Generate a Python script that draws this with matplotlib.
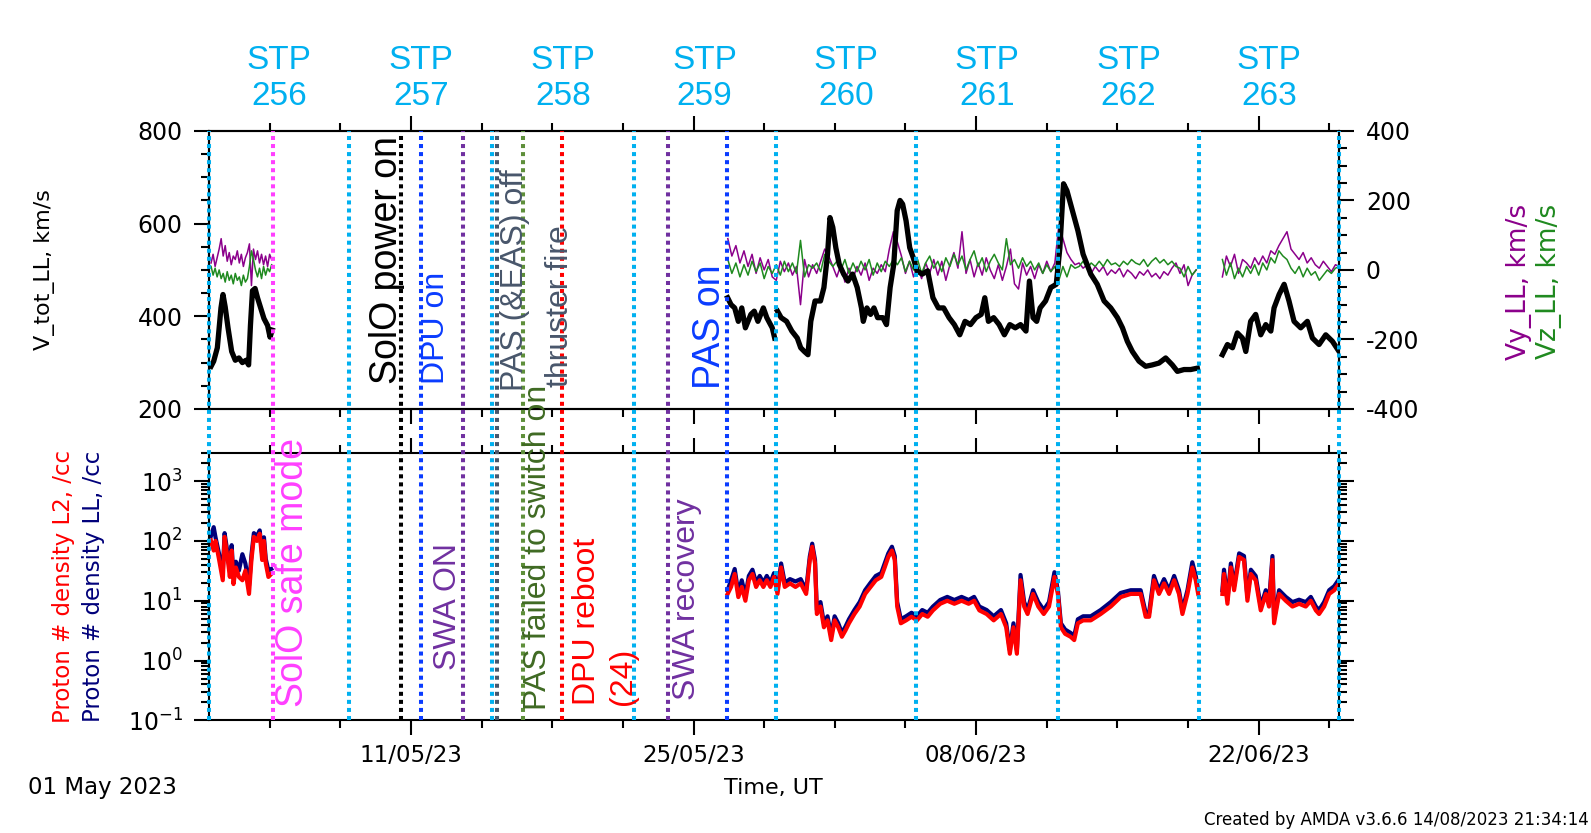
import numpy as np
import matplotlib
matplotlib.use("Agg")
import matplotlib.pyplot as plt
import matplotlib.dates as mdates
from matplotlib.ticker import MultipleLocator, LogLocator, NullFormatter

plt.rcParams['font.family'] = 'DejaVu Sans'
plt.rcParams['mathtext.default'] = 'regular'
plt.rcParams['axes.unicode_minus'] = False

# time span of the plot; all data times are days after 01 May 2023 00:00 UT
t_start = np.datetime64('2023-05-01T00:00')
t_end = np.datetime64('2023-06-26T00:00')

# V_tot_LL, km/s (black), one list per data interval
vtot_a_days = [0.10, 0.23, 0.41, 0.59, 0.69, 0.80, 0.94, 1.12, 1.30, 1.48, 1.65, 1.83, 1.96, 2.05,
               2.15, 2.28, 2.40, 2.54, 2.72, 2.90, 3.02, 3.13]
vtot_a = [292, 303, 332, 418, 447, 420, 375, 324, 305, 310, 300, 305, 295, 380,
          455, 460, 440, 420, 395, 380, 355, 370]
vtot_b1_days = [25.69, 25.86, 26.04, 26.22, 26.39, 26.57, 26.84, 27.01, 27.19, 27.46, 27.63, 27.90, 28.02]
vtot_b1 = [440, 425, 418, 389, 418, 375, 404, 411, 389, 418, 397, 375, 353]
vtot_b2_days = [28.16, 28.34, 28.61, 28.87, 29.14, 29.31, 29.49, 29.67, 29.81, 30.02, 30.29, 30.46,
                30.64, 30.76, 30.90, 31.05, 31.22, 31.44, 31.65, 31.88, 32.11, 32.32, 32.41, 32.59,
                32.77, 32.94, 33.12, 33.38, 33.56, 33.74, 33.92, 34.09, 34.23, 34.36, 34.53, 34.71,
                34.89, 35.07, 35.33, 35.60, 35.86, 36.13, 36.39, 36.66, 36.92, 37.19, 37.45, 37.72,
                37.99, 38.25, 38.43, 38.61, 38.87, 39.14, 39.40, 39.67, 39.94, 40.20, 40.47, 40.64,
                40.82, 41.00, 41.17, 41.44, 41.70, 41.97, 42.15, 42.33, 42.50, 42.77, 43.04, 43.30,
                43.68, 44.00, 44.34, 44.67, 45.00, 45.25, 45.49, 45.74, 46.07, 46.40, 46.73, 47.06,
                47.39, 47.72, 47.97, 48.30, 48.63, 48.96]
vtot_b2 = [411, 397, 389, 368, 353, 332, 324, 317, 389, 433, 433, 462,
           534, 613, 592, 548, 512, 491, 476, 491, 462, 418, 389, 418,
           404, 418, 397, 397, 382, 462, 512, 628, 650, 642, 606, 548,
           526, 498, 491, 498, 440, 418, 418, 397, 382, 360, 389, 382,
           397, 404, 440, 389, 397, 382, 360, 382, 375, 382, 368, 476,
           397, 389, 418, 433, 462, 469, 548, 686, 671, 628, 585, 534,
           491, 469, 433, 418, 397, 375, 346, 324, 303, 292, 295, 299,
           310, 295, 281, 285, 285, 288]
vtot_c_days = [50.20, 50.45, 50.70, 50.94, 51.19, 51.36, 51.60, 51.85, 52.10, 52.35, 52.60, 52.76,
               53.01, 53.26, 53.50, 53.75, 54.08, 54.41, 54.66, 54.99, 55.32, 55.65, 55.98]
vtot_c = [317, 339, 332, 364, 353, 324, 389, 404, 360, 382, 368, 418,
          447, 469, 433, 389, 375, 389, 353, 339, 360, 346, 324]

# Vy_LL and Vz_LL, km/s, regularly sampled intervals: (first day, step in days)
vyz_a_start, vyz_a_step = 0.1, 0.1
vy_a = [20, 45, 10, 35, 60, 90, 40, 70, 25, 50, 15, 40, 30, 55, 20, 45, 10, 35, 50, 75,
        -45, 60, 30, 55, 20, 45, 15, 40, 10, 45, 30]
vz_a = [10, -15, 5, -20, 0, -25, -10, -35, -5, -30, -15, -40, -10, -30, -20, -45, -15, -35, -25, 10,
        55, 30, 0, -20, 5, -25, 10, -15, 5, -5, 15]
vyz_b_start, vyz_b_step = 25.7, 0.2
vy_b = [90, 40, 70, 20, 55, 10, 45, -10, 35, 0, 30, -20,
        -30, 25, -5, 20, -15, 10, -100, 30, -20, 15, -10, 25, 60, 40, 10,
        -20, 15, -35, 5, -25, 10, -15, 20, -30, 5, -10, 15, -5, 60, 110,
        80, 40, -10, 25, -20, 10, -25, 20, -10, 30, -15, 25, -30, 15, 50,
        5, 110, -10, 30, -20, 20, -15, 35, 0, -25, 15, -30, 10, 60, -40,
        -55, 20, -15, 10, -25, 15, -10, 25, -5, 20, 130, 90, 50, 30, 15,
        20, 5, 15, -10, 10, -5, 10, -15, 0, -10, 5, -20, 0, -10, -25,
        -5, -15, 0, -20, -10, -25, -5, -15, 5, 20, -10, 15, -45, -15, 0]
vz_b = [30, -10, 20, -20, 15, -15, 25, -5, 20, -25, 10, -10,
        15, -15, 25, -5, 20, -10, 85, -20, 15, 5, 20, -5, 45, 25, 10,
        25, 0, 30, -10, 20, -5, 25, 0, 30, -15, 20, -5, 25, 10, 30,
        15, 35, -5, 25, 0, 30, -10, 20, 40, 5, 25, -5, 35, 10, 45,
        15, 40, 0, 30, 55, 10, 35, -5, 25, 45, 20, 0, 90, 15, 30,
        5, 35, 10, 25, 0, 20, -10, 15, -5, 10, -30, 10, -20, 15, 5,
        10, 25, 5, 20, 10, 25, 10, 30, 15, 20, 10, 25, 15, 30, 20,
        15, 30, 10, 25, 35, 20, 30, 15, 25, 10, 5, -20, 10, -15, 0]
vyz_c_start, vyz_c_step = 50.2, 0.2
vy_c = [-20, 40, 10, 45, -10, 30, 20, 5, 35, 15, 40, 20, 55, 45, 70, 90, 110, 60, 45, 30,
        50, 20, 35, 15, 5, 25, 10, -5, 15, 10]
vz_c = [30, -15, 20, -25, 5, -20, 10, -10, 15, -15, 20, 0, 35, 20, 55, 40, 30, 5, -10, 10,
        -20, 5, -15, -5, -30, -15, 0, -10, 5, 10]

# proton number density, /cc: L2 (red) and LL (navy)
dens_a_days = [0.09, 0.23, 0.32, 0.50, 0.68, 0.77, 0.91, 1.03, 1.12, 1.21, 1.33, 1.48, 1.65, 1.80,
               1.98, 2.10, 2.22, 2.37, 2.51, 2.63, 2.72, 2.81, 2.94, 3.08]
dens_l2_a = [102, 69, 100, 48, 22, 117, 54, 25, 69, 19, 36, 25, 22, 32, 13, 48, 117, 100, 132, 48,
             100, 42, 25, 28]
dens_ll_a = [120, 170, 115, 60, 30, 135, 65, 32, 85, 25, 45, 32, 60, 42, 18, 58, 135, 120, 150, 60,
             115, 50, 32, 34]
dens_b_days = [25.69, 25.86, 26.04, 26.22, 26.39, 26.57, 26.74, 26.92, 27.10, 27.28,
               27.46, 27.63, 27.81, 27.99, 28.16, 28.34, 28.52, 28.78, 29.05, 29.31,
               29.58, 29.76, 29.88, 30.02, 30.11, 30.29, 30.46, 30.64, 30.82, 30.99,
               31.17, 31.35, 31.53, 31.70, 31.97, 32.23, 32.50, 32.77, 33.03, 33.30,
               33.47, 33.65, 33.83, 33.97, 34.09, 34.27, 34.53, 34.80, 35.07, 35.33,
               35.60, 35.86, 36.22, 36.57, 36.92, 37.28, 37.63, 37.90, 38.16, 38.52,
               38.87, 39.23, 39.49, 39.67, 39.85, 40.02, 40.20, 40.38, 40.55, 40.82,
               41.08, 41.35, 41.61, 41.88, 42.05, 42.20, 42.41, 42.68, 42.86, 43.04,
               43.30, 43.68, 44.17, 44.67, 45.16, 45.66, 46.15, 46.40, 46.57, 46.81,
               47.06, 47.31, 47.56, 47.81, 48.05, 48.22, 48.47, 48.71, 48.88, 49.00]
dens_l2_b = [13, 17, 28, 11.5, 17, 10, 22, 28, 17, 22,
             17, 22, 17, 25, 13, 36, 17, 19.5, 17, 19.5,
             13, 48, 80, 42, 6, 8, 3.6, 4.7, 2.2, 4.7,
             3.6, 2.5, 3.2, 4.2, 6, 8, 13, 17, 22, 25,
             36, 54, 69, 48, 8, 4.2, 4.7, 5.4, 4.7, 6,
             5.4, 6.9, 8.9, 10, 8.9, 10, 8.9, 10, 6.9, 6,
             4.7, 6, 3.6, 1.3, 3.6, 1.3, 22, 8, 6, 13,
             8, 6, 8, 25, 13, 3.6, 2.8, 2.5, 2.2, 4.2,
             4.7, 4.7, 6, 8, 11.5, 13, 13, 5.4, 5.4, 22,
             13, 19.5, 13, 22, 13, 6, 13, 36, 22, 13]
dens_ll_b = [15, 22, 34, 13.5, 22, 12, 26, 33, 20, 26,
             20, 26, 20, 29, 15, 42, 20, 23, 21, 23,
             15, 55, 90, 48, 7, 9.5, 4.2, 5.5, 2.6, 5.5,
             4.2, 2.9, 3.7, 4.9, 7, 9.5, 15, 20, 26, 29,
             42, 62, 80, 56, 9.5, 4.9, 5.5, 6.3, 5.5, 7,
             6.3, 8, 10.3, 11.6, 10.3, 11.6, 10.3, 11.6, 8, 7,
             5.5, 7, 4.2, 1.5, 4.2, 1.5, 27, 9.5, 7, 15,
             9.5, 7, 9.5, 30, 15, 4.2, 3.3, 2.9, 2.6, 4.9,
             5.5, 5.5, 7, 9.5, 13.5, 15, 15, 6.3, 6.3, 26,
             15, 23, 15, 26, 15, 7, 15, 44, 26, 15]
dens_c_days = [50.20, 50.28, 50.45, 50.62, 50.78, 51.03, 51.27, 51.44, 51.61, 51.85, 52.10, 52.35,
               52.51, 52.68, 52.76, 53.01, 53.34, 53.67, 54.00, 54.33, 54.58, 54.83, 54.99, 55.24,
               55.49, 55.74, 55.98]
dens_l2_c = [13, 28, 8.9, 36, 15, 54, 48, 10, 28, 22, 6.9, 13, 8, 48, 4.2, 13, 10, 8, 8.9, 8,
             10, 6.9, 6, 8, 13, 15, 19.5]
dens_ll_c = [15, 33, 10.4, 42, 17.5, 62, 56, 11.6, 33, 26, 8, 15, 9.5, 56, 4.9, 15, 11.6, 9.5,
             10.4, 9.5, 11.6, 8, 7, 9.5, 15, 17.5, 23]

# STP period boundaries (days) and numbers
stp_edges = [0.02, 6.94, 14.03, 21.03, 28.07, 35.01, 42.05, 49.04, 55.98]
stp_numbers = [256, 257, 258, 259, 260, 261, 262, 263]

# operations events
event_days = [3.17, 9.51, 10.51, 12.58, 14.24, 15.54, 17.40, 17.50, 22.74, 25.65]
event_labels = ['SolO safe mode', 'SolO power on', 'DPU on', 'SWA ON', 'PAS (&EAS) off',
                'PAS failed to switch on', 'thruster fire', 'DPU reboot\n(24)', 'SWA recovery', 'PAS on']

# event styling / label layout: line colour, text colour, x offset (pt), base (fraction), size, line?
event_line_colors = ['#ff3fff', 'black', '#0a3cff', '#7030a0', '#48566b', '#5e8f3a', '#48566b',
                     '#ff0000', '#7030a0', '#0a3cff']
event_text_colors = ['#ff3fff', 'black', '#0a3cff', '#7030a0', '#48566b', '#3f6a23', '#48566b',
                     '#ff0000', '#7030a0', '#0a3cff']
event_dx = [14.6, -10.2, 10.9, -10.9, 13.1, 10.9, 0, 31, 13.9, -12.4]
event_base = [0.022, 0.571, 0.571, 0.086, 0.559, 0.017, 0.565, 0.026, 0.034, 0.563]
event_size = [27, 27, 23, 23, 23, 23, 23, 23, 23, 27]
event_has_line = [True, True, True, True, True, True, False, True, True, True]

x0 = mdates.date2num(t_start)
x1 = mdates.date2num(t_end)


def join(*parts):
    # concatenate data intervals, with a NaN between them so lines break at gaps
    xs, ys = [], []
    for days, vals in parts:
        xs += list(days) + [days[-1] + 0.01]
        ys += list(vals) + [np.nan]
    return x0 + np.array(xs), np.array(ys, dtype=float)


def sampled(start, step, vals):
    return start + step * np.arange(len(vals)), vals


cyan = '#00b0f0'
stp_font = 'Liberation Sans'
dot_lw = 2.9

fig = plt.figure(figsize=(15.91, 8.33), dpi=100)
L, W = 0.1314, 0.7105
ax_v = fig.add_axes([L, 0.5091, W, 0.3337])
ax_n = fig.add_axes([L, 0.1352, W, 0.3215])
ax_vr = ax_v.twinx()
ax_v.set_zorder(2)
ax_vr.set_zorder(1)
ax_v.patch.set_visible(False)

# velocity components (right axis)
tx, vy = join(sampled(vyz_a_start, vyz_a_step, vy_a), sampled(vyz_b_start, vyz_b_step, vy_b),
              sampled(vyz_c_start, vyz_c_step, vy_c))
tx, vz = join(sampled(vyz_a_start, vyz_a_step, vz_a), sampled(vyz_b_start, vyz_b_step, vz_b),
              sampled(vyz_c_start, vyz_c_step, vz_c))
ax_vr.plot(tx, vy, color='#8b008b', lw=1.1)
ax_vr.plot(tx, vz, color='#1f8a1f', lw=1.1)

# total velocity
tv, vt = join((vtot_a_days, vtot_a), (vtot_b1_days, vtot_b1), (vtot_b2_days, vtot_b2),
              (vtot_c_days, vtot_c))
ax_v.plot(tv, vt, color='black', lw=3.8, solid_joinstyle='round')

# densities
td, n_ll = join((dens_a_days, dens_ll_a), (dens_b_days, dens_ll_b), (dens_c_days, dens_ll_c))
td, n_l2 = join((dens_a_days, dens_l2_a), (dens_b_days, dens_l2_b), (dens_c_days, dens_l2_c))
ax_n.plot(td, n_ll, color='#00007a', lw=3.0, solid_joinstyle='round')
ax_n.plot(td, n_l2, color='#ff0000', lw=3.0, solid_joinstyle='round')

# axes styling
for ax in (ax_v, ax_n, ax_vr):
    for s in ax.spines.values():
        s.set_linewidth(1.5)
for ax in (ax_v, ax_n):
    ax.set_xlim(x0, x1)
    ax.xaxis.set_major_locator(MultipleLocator(14))
    ax.xaxis.set_minor_locator(MultipleLocator(3.5))
    ax.xaxis.set_major_formatter(mdates.DateFormatter('%d/%m/%y'))
    ax.tick_params(axis='x', which='both', direction='out', top=True, bottom=True, width=1.5)
    ax.tick_params(axis='x', which='major', length=11, pad=6, labelsize=16.5)
    ax.tick_params(axis='x', which='minor', length=6)
ax_v.tick_params(axis='x', labelbottom=False)

ax_v.set_ylim(200, 800)
ax_v.yaxis.set_major_locator(MultipleLocator(200))
ax_v.yaxis.set_minor_locator(MultipleLocator(50))
ax_v.tick_params(axis='y', which='both', direction='out', width=1.5, labelsize=17, pad=8)
ax_v.tick_params(axis='y', which='major', length=11)
ax_v.tick_params(axis='y', which='minor', length=6)

ax_vr.set_ylim(-400, 400)
ax_vr.yaxis.set_major_locator(MultipleLocator(200))
ax_vr.yaxis.set_minor_locator(MultipleLocator(50))
ax_vr.tick_params(axis='y', which='both', direction='out', width=1.5, labelsize=17, pad=8)
ax_vr.tick_params(axis='y', which='major', length=11)
ax_vr.tick_params(axis='y', which='minor', length=6)

ax_n.set_yscale('log')
ax_n.set_ylim(0.1, 3000)
ax_n.yaxis.set_major_locator(LogLocator(base=10, numticks=12))
ax_n.yaxis.set_minor_locator(LogLocator(base=10, subs=np.arange(2, 10), numticks=12))
ax_n.yaxis.set_minor_formatter(NullFormatter())
ax_n.tick_params(axis='y', which='both', direction='out', left=True, right=True, width=1.5,
                 labelsize=17, pad=8)
ax_n.tick_params(axis='y', which='major', length=11)
ax_n.tick_params(axis='y', which='minor', length=6)

# overlay for event lines and labels spanning both panels
ax_ev = fig.add_axes([L, 0.1352, W, 0.5091 + 0.3337 - 0.1352])
ax_ev.set_xlim(x0, x1)
ax_ev.set_ylim(0, 1)
ax_ev.axis('off')
ax_ev.set_zorder(10)

for d in stp_edges:
    ax_ev.axvline(x0 + d, color=cyan, lw=dot_lw, ls=(0, (1, 1)), clip_on=False)

for d, lab, lc, tc, dx, yb, fs, has_line in zip(event_days, event_labels, event_line_colors,
                                                event_text_colors, event_dx, event_base,
                                                event_size, event_has_line):
    if has_line:
        ax_ev.axvline(x0 + d, color=lc, lw=dot_lw, ls=(0, (1, 1)), clip_on=False)
    ax_ev.annotate(lab, xy=(x0 + d, yb), xycoords=('data', 'axes fraction'),
                   xytext=(dx, 0), textcoords='offset points', rotation=90,
                   ha='center', va='bottom', multialignment='left', linespacing=1.25,
                   color=tc, fontsize=fs, family=stp_font, annotation_clip=False)

for a, b, n in zip(stp_edges[:-1], stp_edges[1:], stp_numbers):
    ax_ev.annotate(f'STP\n{n}', xy=(x0 + (a + b) / 2, 0.9055), xycoords=('data', 'figure fraction'),
                   ha='center', va='center', multialignment='center', linespacing=1.2,
                   color=cyan, fontsize=24, family=stp_font, annotation_clip=False)

# axis titles and footer
fig.text(0.0277, 0.676, 'V_tot_LL, km/s', rotation=90, ha='center', va='center', fontsize=16)
fig.text(0.0396, 0.2965, 'Proton # density L2, /cc', rotation=90, ha='center', va='center',
         fontsize=16.5, color='#ff0000')
fig.text(0.0587, 0.2965, 'Proton # density LL, /cc', rotation=90, ha='center', va='center',
         fontsize=16.5, color='#00007a')
fig.text(0.9548, 0.662, 'Vy_LL, km/s', rotation=90, ha='center', va='center', fontsize=19,
         color='#8b008b')
fig.text(0.9739, 0.662, 'Vz_LL, km/s', rotation=90, ha='center', va='center', fontsize=19,
         color='#1f8a1f')
fig.text(0.0179, 0.0547, '01 May 2023', ha='left', va='center', fontsize=16.5)
fig.text(0.486, 0.054, 'Time, UT', ha='center', va='center', fontsize=16)
fig.text(0.9988, 0.0156, 'Created by AMDA v3.6.6 14/08/2023 21:34:14', ha='right', va='center',
         fontsize=12)

fig.savefig('out.png', dpi=100)
